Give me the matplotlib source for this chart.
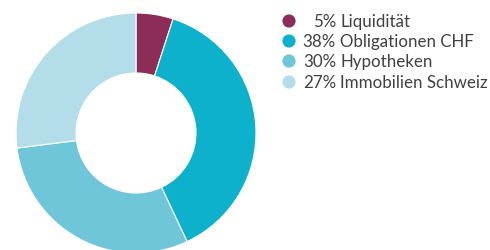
import matplotlib
matplotlib.use("Agg")
import matplotlib.pyplot as plt

# Data
labels = ["Liquidität", "Obligationen CHF", "Hypotheken", "Immobilien Schweiz"]
shares = [5, 38, 30, 27]
colors = ["#8b2d56", "#0db1cb", "#6ec6d8", "#b3dde9"]

plt.rcParams["font.family"] = ["Lato", "DejaVu Sans"]

W, H = 490, 251
fig = plt.figure(figsize=(W / 100, H / 100), dpi=100)

# Donut
cx, cy, r = 136, 117, 120
ax = fig.add_axes([(cx - r) / W, (cy - r) / H, 2 * r / W, 2 * r / H])
ax.pie(shares, colors=colors, startangle=90, counterclock=False,
       radius=1.0, wedgeprops=dict(width=0.5, edgecolor="white", linewidth=0.8))
ax.set_xlim(-1, 1)
ax.set_ylim(-1, 1)
ax.set_aspect("equal")
ax.axis("off")

# Legend (drawn by hand so percentages line up)
lax = fig.add_axes([0, 0, 1, 1])
lax.set_xlim(0, W)
lax.set_ylim(H, 0)
lax.axis("off")
row_y = [22, 42, 62, 83]
for y, lab, pct, col in zip(row_y, labels, shares, colors):
    lax.scatter([289], [y], s=90, color=col, edgecolor="none")
    lax.text(336, y, f"{pct}%", ha="right", va="center", fontsize=12.2,
             color="#404040")
    lax.text(340, y, lab, ha="left", va="center", fontsize=12.2,
             color="#404040")

fig.savefig("out.png", dpi=100)
